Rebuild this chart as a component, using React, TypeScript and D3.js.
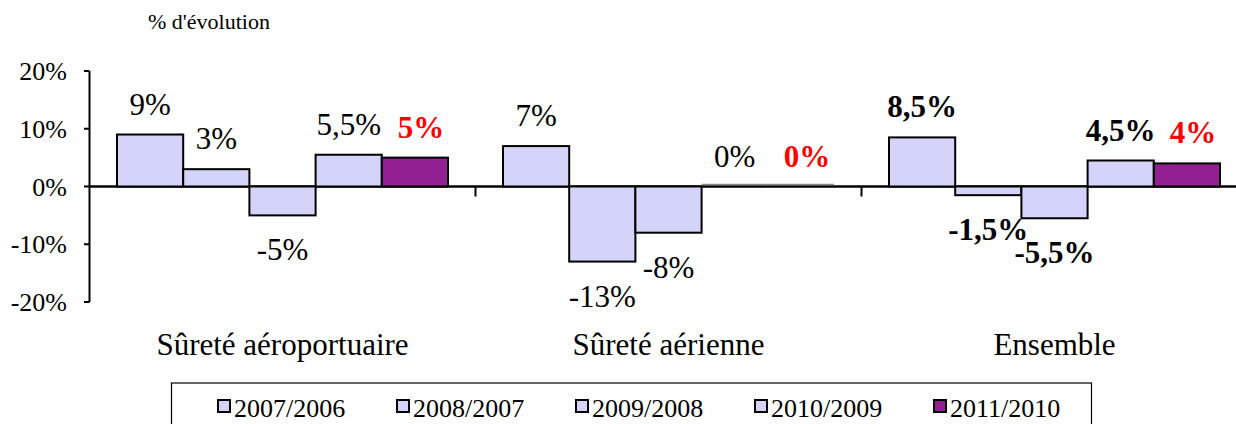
import React from "react";
import * as d3 from "d3";

const categories = ["Sûreté aéroportuaire", "Sûreté aérienne", "Ensemble"];
const seriesNames = ["2007/2006", "2008/2007", "2009/2008", "2010/2009", "2011/2010"];
const s2007 = [9, 7, 8.5];
const s2008 = [3, -13, -1.5];
const s2009 = [-5, -8, -5.5];
const s2010 = [5.5, 0, 4.5];
const s2011 = [5, 0, 4];
const yTicks = [-20, -10, 0, 10, 20];
const yTitle = "% d'évolution";

const seriesValues = [s2007, s2008, s2009, s2010, s2011];
const FILL = "#D4D4FA";
const PURPLE = "#922090";
const FONT = "Liberation Serif";

const loc = d3.formatLocale({ decimal: ",", thousands: " ", grouping: [3], currency: ["", "€"], minus: "-" });
const fmt = loc.format(".1~f");

export default function App() {
  const W = 1236, H = 424;
  const x0 = d3.scaleBand<string>().domain(categories).range([89.5, 1247.5]).paddingInner(0).paddingOuter(0);
  const inner = d3.scaleBand<string>().domain(seriesNames).range([27.5, 386 - 27.5]);
  const y = d3.scaleLinear().domain([-20, 20]).range([302, 71]);
  const y0 = y(0);

  const bars: any[] = [];
  const labels: any[] = [];
  categories.forEach((c, ci) => {
    seriesNames.forEach((s, si) => {
      const v = seriesValues[si][ci];
      const bx = (x0(c) as number) + (inner(s) as number);
      const bw = inner.bandwidth();
      const top = Math.min(y(v), y0);
      const h = Math.abs(y(v) - y0);
      const last = si === seriesNames.length - 1;
      if (v === 0) {
        bars.push(
          <line key={`b${ci}-${si}`} x1={bx} x2={bx + bw} y1={y0 - 2} y2={y0 - 2} stroke="#888" strokeWidth={1.5} />
        );
      } else {
        bars.push(
          <rect key={`b${ci}-${si}`} x={bx} y={top} width={bw} height={h}
            fill={last ? PURPLE : FILL} stroke="#000" strokeWidth={2} />
        );
      }
      const bold = last || ci === 2;
      const ly = v >= 0 ? y(v) - 20 : y(v) + 45;
      labels.push(
        <text key={`l${ci}-${si}`} x={bx + bw / 2 + (last ? 6 : 0)} y={ly} textAnchor="middle"
          fontSize={31} fontWeight={bold ? "bold" : "normal"} fill={last ? "#FF0000" : "#000"}>
          {fmt(v) + "%"}
        </text>
      );
    });
  });

  const legendX = 218;
  const legendStep = 179;

  return (
    <svg width={W} height={H} style={{ position: "absolute", left: 0, top: 0, fontFamily: FONT }}>
      <rect x={0} y={0} width={W} height={H} fill="#fff" />
      <text x={148} y={29} fontSize={22}>{yTitle}</text>
      <line x1={89.5} x2={1247.5} y1={y0} y2={y0} stroke="#000" strokeWidth={2.5} />
      {bars}
      {categories.slice(1).map((c) => (
        <line key={`ct${c}`} x1={x0(c) as number} x2={x0(c) as number} y1={y0} y2={y0 + 10} stroke="#000" strokeWidth={2} />
      ))}
      <line x1={89.5} x2={89.5} y1={y(20)} y2={y(-20)} stroke="#000" strokeWidth={2} />
      {yTicks.map((t) => (
        <g key={`yt${t}`}>
          <line x1={84} x2={89.5} y1={y(t)} y2={y(t)} stroke="#000" strokeWidth={2} />
          <text x={67} y={y(t) + 9} textAnchor="end" fontSize={26}>{fmt(t) + "%"}</text>
        </g>
      ))}
      {labels}
      {categories.map((c) => (
        <text key={`cl${c}`} x={(x0(c) as number) + x0.bandwidth() / 2} y={355} textAnchor="middle" fontSize={31}>{c}</text>
      ))}
      <rect x={171.5} y={383} width={920} height={60} fill="#fff" stroke="#000" strokeWidth={1.2} />
      {seriesNames.map((s, i) => (
        <g key={`lg${s}`}>
          <rect x={legendX + i * legendStep} y={400} width={12} height={12}
            fill={i === seriesNames.length - 1 ? PURPLE : FILL} stroke="#000" strokeWidth={2} />
          <text x={legendX + i * legendStep + 16} y={417} fontSize={26}>{s}</text>
        </g>
      ))}
    </svg>
  );
}
